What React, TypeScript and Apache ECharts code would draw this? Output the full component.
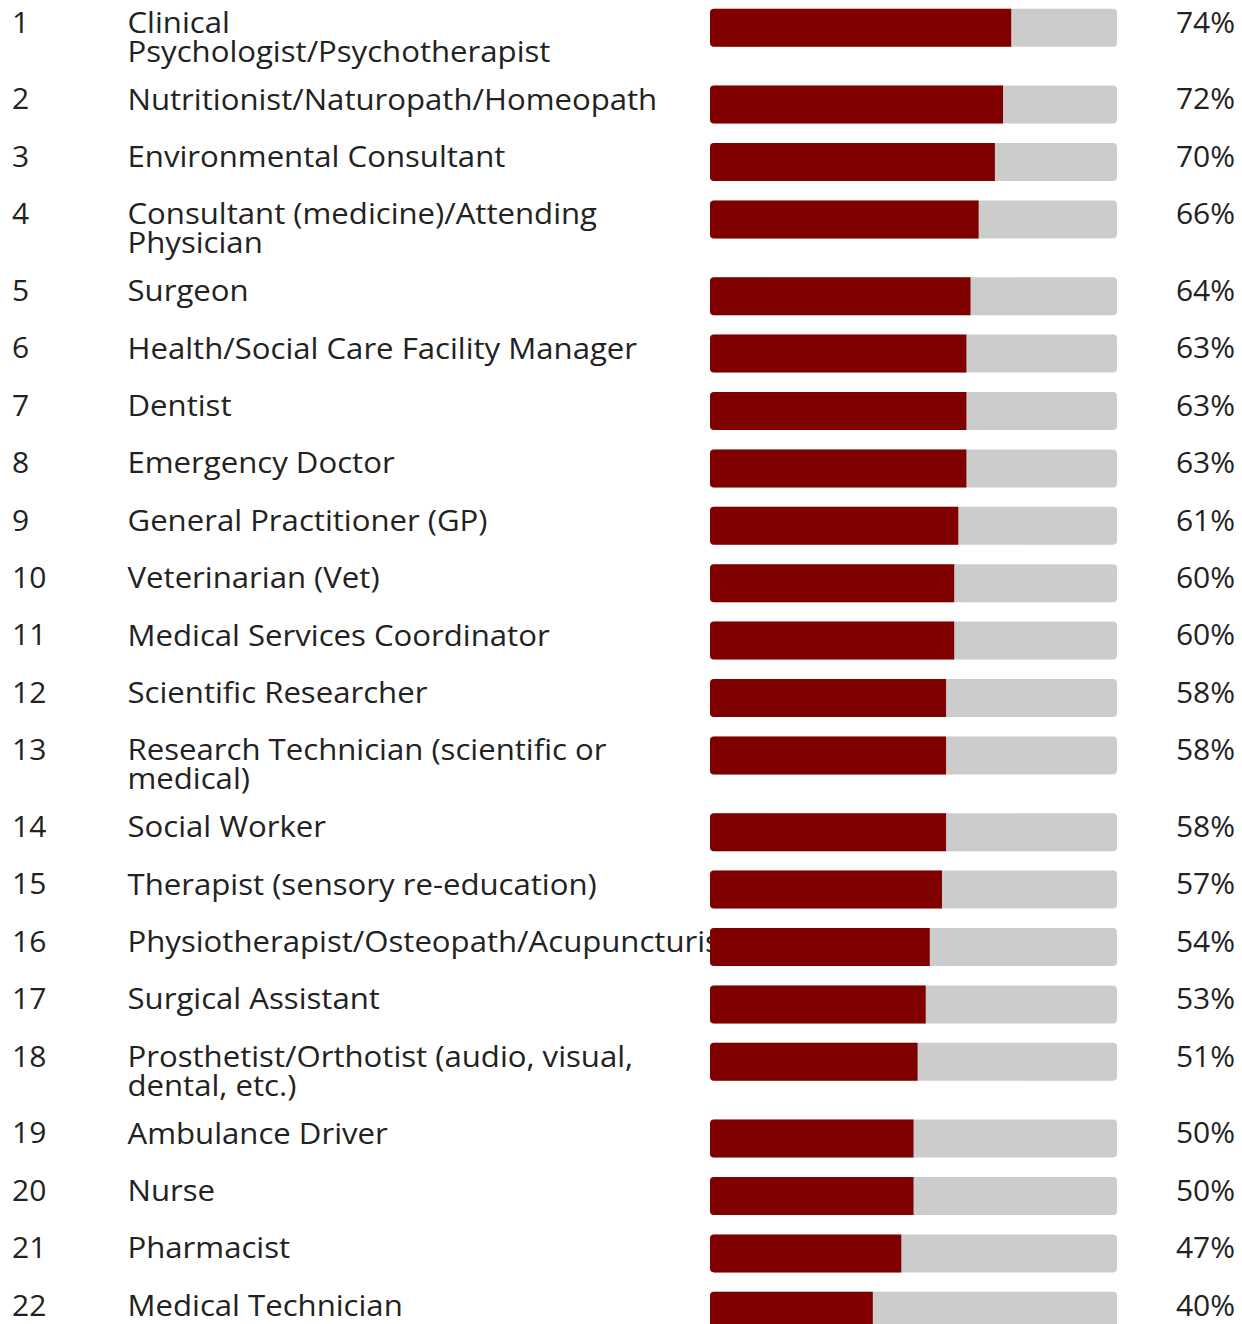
import React, { useEffect, useRef } from "react";
import * as echarts from "echarts";

const labels: string[] = [
  "Clinical\nPsychologist/Psychotherapist",
  "Nutritionist/Naturopath/Homeopath",
  "Environmental Consultant",
  "Consultant (medicine)/Attending\nPhysician",
  "Surgeon",
  "Health/Social Care Facility Manager",
  "Dentist",
  "Emergency Doctor",
  "General Practitioner (GP)",
  "Veterinarian (Vet)",
  "Medical Services Coordinator",
  "Scientific Researcher",
  "Research Technician (scientific or\nmedical)",
  "Social Worker",
  "Therapist (sensory re-education)",
  "Physiotherapist/Osteopath/Acupuncturist",
  "Surgical Assistant",
  "Prosthetist/Orthotist (audio, visual,\ndental, etc.)",
  "Ambulance Driver",
  "Nurse",
  "Pharmacist",
  "Medical Technician",
];

const values: number[] = [74, 72, 70, 66, 64, 63, 63, 63, 61, 60, 60, 58, 58, 58, 57, 54, 53, 51, 50, 50, 47, 40];

const ranks: number[] = labels.map((_, i) => i + 1);

const ROW = 57.4;
const EXTRA = 19.4;
const FONT = "'Open Sans', 'Noto Sans', sans-serif";

export default function App() {
  const ref = useRef<HTMLDivElement>(null);
  useEffect(() => {
    if (!ref.current) return;
    const chart = echarts.init(ref.current, undefined, { renderer: "svg" });
    let acc = 0;
    const data = labels.map((lab, i) => {
      const start = acc;
      acc += ROW + (lab.split("\n").length - 1) * EXTRA;
      return [values[i], start, i];
    });
    chart.setOption({
      animation: false,
      grid: { left: 710, width: 407, top: 0, height: 1324 },
      xAxis: { type: "value", min: 0, max: 100, show: false },
      yAxis: { type: "value", min: 0, max: 1324, inverse: true, show: false },
      series: [
        {
          type: "custom",
          clip: false,
          data,
          renderItem: (params: any, api: any) => {
            const v = api.value(0);
            const ys = api.value(1);
            const idx = api.value(2);
            const p0 = api.coord([0, ys]);
            const p100 = api.coord([100, ys]);
            const pv = api.coord([v, ys]);
            const top = p0[1] + 8.8;
            const h = 38;
            const textY = top - 2.3;
            const common = {
              fill: "#222222",
              fontSize: 30,
              fontFamily: FONT,
              verticalAlign: "top",
              lineHeight: 29,
            };
            return {
              type: "group",
              children: [
                {
                  type: "text",
                  x: p0[0] - 698,
                  y: textY,
                  style: { ...common, text: String(ranks[idx]), align: "left" },
                },
                {
                  type: "text",
                  x: p0[0] - 582.5,
                  y: textY,
                  scaleX: 1.038,
                  style: { ...common, text: labels[idx], align: "left" },
                },
                {
                  type: "text",
                  x: p100[0] + 118,
                  y: textY,
                  style: { ...common, text: v + "%", align: "right" },
                },
                {
                  type: "rect",
                  shape: { x: p0[0], y: top, width: p100[0] - p0[0], height: h, r: 4 },
                  style: { fill: "#cccccc" },
                },
                {
                  type: "rect",
                  shape: { x: p0[0], y: top, width: pv[0] - p0[0], height: h, r: [4, 0, 0, 4] },
                  style: { fill: "#800000" },
                },
              ],
            };
          },
        },
      ],
    });
    return () => chart.dispose();
  }, []);
  return (
    <div
      ref={ref}
      style={{ position: "absolute", left: 0, top: 0, width: 1242, height: 1324 }}
    />
  );
}
